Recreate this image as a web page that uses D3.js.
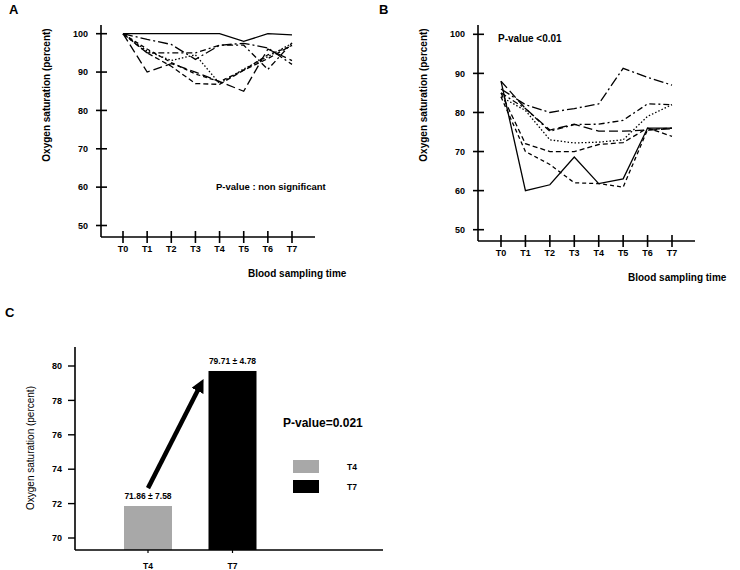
<!DOCTYPE html>
<html lang="en">
<head>
<meta charset="UTF-8">
<title>Oxygen saturation</title>
<script src="https://d3js.org/d3.v7.min.js"></script>
<style>
    body { margin: 0; background: #fff; }
    svg text { font-family: "Liberation Sans", Arial, sans-serif; fill: #000; }
</style>
</head>
<body>
<div id="chart"></div>
<script>
// ---- data ----
var times = ["T0", "T1", "T2", "T3", "T4", "T5", "T6", "T7"];
var yTicksAB = [50, 60, 70, 80, 90, 100];

// panel A: patients with non significant change
var seriesA = [
    [100, 100, 100, 100, 100, 98, 100, 99.7],
    [100, 98.5, 97.2, 93.3, 97, 97.5, 96.3, 92],
    [100, 95, 95, 95, 97, 97, 90.7, 97.6],
    [100, 90, 92.2, 90, 87.5, 85, 96, 93],
    [100, 95.5, 93, 94.5, 87, 90.8, 94, 97.5],
    [100, 95, 91.5, 87, 86.8, 90.5, 93.5, 97],
    [100, 96, 92.5, 89.5, 87.5, 90.5, 94.5, 96.8]
];
// panel B
var seriesB = [
    [88, 60, 61.5, 68.6, 61.8, 63, 76, 76],
    [86, 82, 80, 81, 82.2, 91.3, 89, 87],
    [85, 81, 75.2, 76.9, 77, 78, 82.2, 82],
    [88, 81, 75.5, 77, 75.2, 75.2, 75.5, 75.8],
    [84, 80.5, 73, 72.2, 72.4, 73, 79, 82],
    [85, 72, 70, 70, 71.8, 72.3, 76, 73.9],
    [84, 70, 66.7, 62, 61.8, 60.9, 75.6, 76]
];
var dashes = ["", "10,3,2,3", "6,3,2,3", "9,4", "1.5,2", "5,3", "4,3"];

// panel C
var barCats = ["T4", "T7"];
var barVals = [71.86, 79.71];
var barLabels = ["71.86 \u00b1 7.58", "79.71 \u00b1 4.78"];
var barColors = ["#a8a8a8", "#000000"];
var yTicksC = [70, 72, 74, 76, 78, 80];

var svg = d3.select("#chart").append("svg")
    .attr("width", 740).attr("height", 570);

function linePanel(cfg) {
    var g = svg.append("g");
    var x = d3.scalePoint().domain(times).range([cfg.x0, cfg.x7]);
    var y = d3.scaleLinear().domain([50, 100]).range([cfg.y50, cfg.y100]);

    // axes lines
    g.append("line").attr("x1", cfg.ax).attr("x2", cfg.ax)
        .attr("y1", cfg.axTop).attr("y2", cfg.axBottom)
        .attr("stroke", "#000").attr("stroke-width", 1.6);
    g.append("line").attr("x1", cfg.ax).attr("x2", cfg.axRight)
        .attr("y1", cfg.axBottom).attr("y2", cfg.axBottom)
        .attr("stroke", "#000").attr("stroke-width", 1.6);

    // y ticks cross the axis
    g.selectAll(".yt").data(yTicksAB).enter().append("line")
        .attr("x1", cfg.ax - 5).attr("x2", cfg.ax + 6)
        .attr("y1", d => y(d)).attr("y2", d => y(d))
        .attr("stroke", "#000").attr("stroke-width", 1.6);
    g.selectAll(".yl").data(yTicksAB).enter().append("text")
        .attr("x", cfg.ax - 13).attr("y", d => y(d))
        .attr("dy", "0.35em").attr("text-anchor", "end")
        .style("font-size", "9px").style("font-weight", "bold")
        .text(d => d);

    g.selectAll(".xt").data(times).enter().append("line")
        .attr("x1", d => x(d)).attr("x2", d => x(d))
        .attr("y1", cfg.axBottom - 6).attr("y2", cfg.axBottom + 6)
        .attr("stroke", "#000").attr("stroke-width", 1.6);
    g.selectAll(".xl").data(times).enter().append("text")
        .attr("x", d => x(d)).attr("y", cfg.axBottom + 12)
        .attr("dy", "0.35em").attr("text-anchor", "middle")
        .style("font-size", "9px").style("font-weight", "bold")
        .text(d => d);

    var line = d3.line().x((d, i) => x(times[i])).y(d => y(d));
    g.selectAll(".series").data(cfg.series).enter().append("path")
        .attr("d", line)
        .attr("fill", "none")
        .attr("stroke", "#000")
        .attr("stroke-width", 1.3)
        .attr("stroke-dasharray", (d, i) => dashes[i]);

    g.append("text")
        .attr("transform", "translate(" + cfg.ylabX + ",95) rotate(-90)")
        .attr("text-anchor", "middle").attr("dy", "0.35em")
        .style("font-size", "10px").style("font-weight", "bold")
        .text("Oxygen saturation (percent)");
    g.append("text")
        .attr("x", cfg.xlabX).attr("y", cfg.axBottom + 36).attr("dy", "0.35em")
        .style("font-size", "10px").style("font-weight", "bold")
        .text("Blood sampling time");
    g.append("text")
        .attr("x", cfg.pX).attr("y", cfg.pY).attr("dy", "0.35em")
        .style("font-size", cfg.pSize).style("font-weight", "bold")
        .text(cfg.pText);
    g.append("text")
        .attr("x", cfg.letterX).attr("y", 9).attr("dy", "0.35em")
        .style("font-size", "13px").style("font-weight", "bold")
        .text(cfg.letter);
}

linePanel({
    series: seriesA, x0: 123, x7: 292, y50: 225.5, y100: 33.7,
    ax: 101, axTop: 25, axBottom: 237, axRight: 315,
    ylabX: 46, xlabX: 248, pX: 216, pY: 187, pSize: "9.5px",
    pText: "P-value : non significant", letter: "A", letterX: 9
});
linePanel({
    series: seriesB, x0: 501, x7: 672, y50: 229.7, y100: 34.3,
    ax: 478, axTop: 25, axBottom: 241, axRight: 695,
    ylabX: 423, xlabX: 628, pX: 498, pY: 38, pSize: "10px",
    pText: "P-value <0.01", letter: "B", letterX: 379
});

// ---- panel C: bar chart ----
var gc = svg.append("g");
var xC = d3.scalePoint().domain(barCats).range([148, 232.5]);
var yC = d3.scaleLinear().domain([70, 80]).range([538, 366]);
var axY = 550, axX = 75, bw = 48;

gc.selectAll(".bar").data(barVals).enter().append("rect")
    .attr("x", (d, i) => xC(barCats[i]) - bw / 2)
    .attr("y", d => yC(d))
    .attr("width", bw)
    .attr("height", d => axY - yC(d))
    .attr("fill", (d, i) => barColors[i]);

gc.selectAll(".blab").data(barLabels).enter().append("text")
    .attr("x", (d, i) => xC(barCats[i]))
    .attr("y", (d, i) => yC(barVals[i]) - 10)
    .attr("dy", "0.35em").attr("text-anchor", "middle")
    .style("font-size", "8.5px").style("font-weight", "bold")
    .text(d => d);

gc.append("line").attr("x1", axX).attr("x2", axX)
    .attr("y1", 347).attr("y2", axY)
    .attr("stroke", "#000").attr("stroke-width", 1.6);
gc.append("line").attr("x1", axX).attr("x2", 383)
    .attr("y1", axY).attr("y2", axY)
    .attr("stroke", "#000").attr("stroke-width", 1.6);

gc.selectAll(".yt").data(yTicksC).enter().append("line")
    .attr("x1", axX - 7).attr("x2", axX)
    .attr("y1", d => yC(d)).attr("y2", d => yC(d))
    .attr("stroke", "#000").attr("stroke-width", 1.4);
gc.selectAll(".yl").data(yTicksC).enter().append("text")
    .attr("x", axX - 13).attr("y", d => yC(d))
    .attr("dy", "0.35em").attr("text-anchor", "end")
    .style("font-size", "9px").style("font-weight", "bold")
    .text(d => d);

gc.selectAll(".xt").data(barCats).enter().append("line")
    .attr("x1", d => xC(d)).attr("x2", d => xC(d))
    .attr("y1", axY).attr("y2", axY + 3)
    .attr("stroke", "#000").attr("stroke-width", 1.2);
gc.selectAll(".xl").data(barCats).enter().append("text")
    .attr("x", d => xC(d)).attr("y", 566)
    .attr("dy", "0.35em").attr("text-anchor", "middle")
    .style("font-size", "8.5px").style("font-weight", "bold")
    .text(d => d);

// arrow T4 -> T7
svg.append("defs").append("marker")
    .attr("id", "head").attr("viewBox", "0 0 10 10")
    .attr("refX", 5).attr("refY", 5)
    .attr("markerWidth", 3).attr("markerHeight", 3)
    .attr("orient", "auto")
    .append("path").attr("d", "M0,0L10,5L0,10z").attr("fill", "#000");
gc.append("line")
    .attr("x1", xC("T4")).attr("y1", yC(72.9))
    .attr("x2", xC("T7") - bw / 2 - 8).attr("y2", yC(78.9))
    .attr("stroke", "#000").attr("stroke-width", 4.5)
    .attr("marker-end", "url(#head)");

gc.append("text")
    .attr("transform", "translate(30,448) rotate(-90)")
    .attr("text-anchor", "middle").attr("dy", "0.35em")
    .style("font-size", "10px")
    .text("Oxygen saturation (percent)");

gc.append("text").attr("x", 283).attr("y", 423).attr("dy", "0.35em")
    .style("font-size", "12px").style("font-weight", "bold")
    .text("P-value=0.021");

// legend
gc.selectAll(".lg").data(barCats).enter().append("rect")
    .attr("x", 293).attr("y", (d, i) => 460 + i * 20)
    .attr("width", 26).attr("height", 13)
    .attr("fill", (d, i) => barColors[i]);
gc.selectAll(".lgt").data(barCats).enter().append("text")
    .attr("x", 347).attr("y", (d, i) => 467 + i * 20)
    .attr("dy", "0.35em")
    .style("font-size", "8.5px").style("font-weight", "bold")
    .text(d => d);

gc.append("text").attr("x", 5).attr("y", 312).attr("dy", "0.35em")
    .style("font-size", "13px").style("font-weight", "bold")
    .text("C");
</script>
</body>
</html>
